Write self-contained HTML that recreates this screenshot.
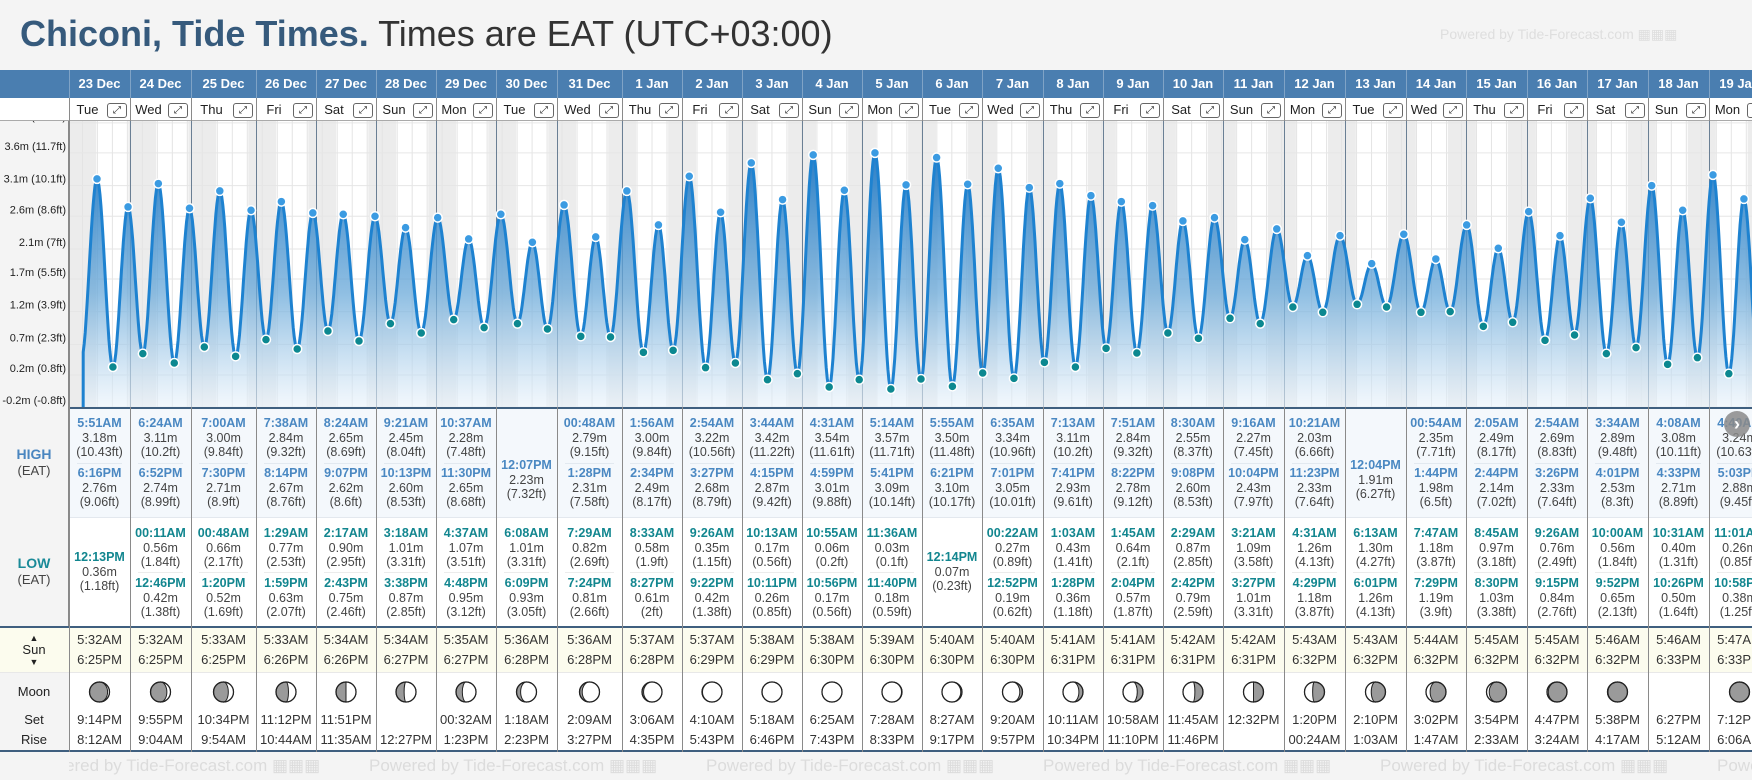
<!DOCTYPE html>
<html><head><meta charset="utf-8">
<style>
*{box-sizing:border-box;margin:0;padding:0}
body{width:1752px;height:780px;overflow:hidden;background:#f4f4f4;font-family:"Liberation Sans",sans-serif;position:relative}
.a{position:absolute}
.c{position:absolute;text-align:center;white-space:nowrap;font-size:12.5px;line-height:14px}
#root{position:absolute;left:0;top:0;width:1752px;height:780px;overflow:hidden}
</style></head>
<body>
<div id="root"></div>
<div class="a" style="left:20px;top:12px;font-size:36px;line-height:44px;white-space:nowrap"><b style="color:#365a7c">Chiconi, Tide Times.</b><span style="color:#333"> Times are EAT (UTC+03:00)</span></div>
<div class="a" style="left:1440px;top:26px;font-size:14px;color:#dedede;white-space:nowrap">Powered by Tide-Forecast.com ▦▦▦</div>
<svg id="chart" class="a" style="left:0;top:0" width="1752" height="780"></svg>
<script>
const days=['Tue','Wed','Thu','Fri','Sat','Sun','Mon','Tue','Wed','Thu','Fri','Sat','Sun','Mon','Tue','Wed','Thu','Fri','Sat','Sun','Mon','Tue','Wed','Thu','Fri','Sat','Sun','Mon'];
const dates=['23 Dec','24 Dec','25 Dec','26 Dec','27 Dec','28 Dec','29 Dec','30 Dec','31 Dec','1 Jan','2 Jan','3 Jan','4 Jan','5 Jan','6 Jan','7 Jan','8 Jan','9 Jan','10 Jan','11 Jan','12 Jan','13 Jan','14 Jan','15 Jan','16 Jan','17 Jan','18 Jan','19 Jan'];
const highs=[
[['5:51AM',3.18,'10.43'],['6:16PM',2.76,'9.06']],
[['6:24AM',3.11,'10.2'],['6:52PM',2.74,'8.99']],
[['7:00AM',3.00,'9.84'],['7:30PM',2.71,'8.9']],
[['7:38AM',2.84,'9.32'],['8:14PM',2.67,'8.76']],
[['8:24AM',2.65,'8.69'],['9:07PM',2.62,'8.6']],
[['9:21AM',2.45,'8.04'],['10:13PM',2.60,'8.53']],
[['10:37AM',2.28,'7.48'],['11:30PM',2.65,'8.68']],
[['12:07PM',2.23,'7.32']],
[['00:48AM',2.79,'9.15'],['1:28PM',2.31,'7.58']],
[['1:56AM',3.00,'9.84'],['2:34PM',2.49,'8.17']],
[['2:54AM',3.22,'10.56'],['3:27PM',2.68,'8.79']],
[['3:44AM',3.42,'11.22'],['4:15PM',2.87,'9.42']],
[['4:31AM',3.54,'11.61'],['4:59PM',3.01,'9.88']],
[['5:14AM',3.57,'11.71'],['5:41PM',3.09,'10.14']],
[['5:55AM',3.50,'11.48'],['6:21PM',3.10,'10.17']],
[['6:35AM',3.34,'10.96'],['7:01PM',3.05,'10.01']],
[['7:13AM',3.11,'10.2'],['7:41PM',2.93,'9.61']],
[['7:51AM',2.84,'9.32'],['8:22PM',2.78,'9.12']],
[['8:30AM',2.55,'8.37'],['9:08PM',2.60,'8.53']],
[['9:16AM',2.27,'7.45'],['10:04PM',2.43,'7.97']],
[['10:21AM',2.03,'6.66'],['11:23PM',2.33,'7.64']],
[['12:04PM',1.91,'6.27']],
[['00:54AM',2.35,'7.71'],['1:44PM',1.98,'6.5']],
[['2:05AM',2.49,'8.17'],['2:44PM',2.14,'7.02']],
[['2:54AM',2.69,'8.83'],['3:26PM',2.33,'7.64']],
[['3:34AM',2.89,'9.48'],['4:01PM',2.53,'8.3']],
[['4:08AM',3.08,'10.11'],['4:33PM',2.71,'8.89']],
[['4:40AM',3.24,'10.63'],['5:03PM',2.88,'9.45']]];
const lows=[
[['12:13PM',0.36,'1.18']],
[['00:11AM',0.56,'1.84'],['12:46PM',0.42,'1.38']],
[['00:48AM',0.66,'2.17'],['1:20PM',0.52,'1.69']],
[['1:29AM',0.77,'2.53'],['1:59PM',0.63,'2.07']],
[['2:17AM',0.90,'2.95'],['2:43PM',0.75,'2.46']],
[['3:18AM',1.01,'3.31'],['3:38PM',0.87,'2.85']],
[['4:37AM',1.07,'3.51'],['4:48PM',0.95,'3.12']],
[['6:08AM',1.01,'3.31'],['6:09PM',0.93,'3.05']],
[['7:29AM',0.82,'2.69'],['7:24PM',0.81,'2.66']],
[['8:33AM',0.58,'1.9'],['8:27PM',0.61,'2']],
[['9:26AM',0.35,'1.15'],['9:22PM',0.42,'1.38']],
[['10:13AM',0.17,'0.56'],['10:11PM',0.26,'0.85']],
[['10:55AM',0.06,'0.2'],['10:56PM',0.17,'0.56']],
[['11:36AM',0.03,'0.1'],['11:40PM',0.18,'0.59']],
[['12:14PM',0.07,'0.23']],
[['00:22AM',0.27,'0.89'],['12:52PM',0.19,'0.62']],
[['1:03AM',0.43,'1.41'],['1:28PM',0.36,'1.18']],
[['1:45AM',0.64,'2.1'],['2:04PM',0.57,'1.87']],
[['2:29AM',0.87,'2.85'],['2:42PM',0.79,'2.59']],
[['3:21AM',1.09,'3.58'],['3:27PM',1.01,'3.31']],
[['4:31AM',1.26,'4.13'],['4:29PM',1.18,'3.87']],
[['6:13AM',1.30,'4.27'],['6:01PM',1.26,'4.13']],
[['7:47AM',1.18,'3.87'],['7:29PM',1.19,'3.9']],
[['8:45AM',0.97,'3.18'],['8:30PM',1.03,'3.38']],
[['9:26AM',0.76,'2.49'],['9:15PM',0.84,'2.76']],
[['10:00AM',0.56,'1.84'],['9:52PM',0.65,'2.13']],
[['10:31AM',0.40,'1.31'],['10:26PM',0.50,'1.64']],
[['11:01AM',0.26,'0.85'],['10:58PM',0.38,'1.25']]];
const sunrise=['5:32AM','5:32AM','5:33AM','5:33AM','5:34AM','5:34AM','5:35AM','5:36AM','5:36AM','5:37AM','5:37AM','5:38AM','5:38AM','5:39AM','5:40AM','5:40AM','5:41AM','5:41AM','5:42AM','5:42AM','5:43AM','5:43AM','5:44AM','5:45AM','5:45AM','5:46AM','5:46AM','5:47AM'];
const sunset=['6:25PM','6:25PM','6:25PM','6:26PM','6:26PM','6:27PM','6:27PM','6:28PM','6:28PM','6:28PM','6:29PM','6:29PM','6:30PM','6:30PM','6:30PM','6:30PM','6:31PM','6:31PM','6:31PM','6:31PM','6:32PM','6:32PM','6:32PM','6:32PM','6:32PM','6:32PM','6:33PM','6:33PM'];
const moonset=['9:14PM','9:55PM','10:34PM','11:12PM','11:51PM','','00:32AM','1:18AM','2:09AM','3:06AM','4:10AM','5:18AM','6:25AM','7:28AM','8:27AM','9:20AM','10:11AM','10:58AM','11:45AM','12:32PM','1:20PM','2:10PM','3:02PM','3:54PM','4:47PM','5:38PM','6:27PM','7:12PM'];
const moonrise=['8:12AM','9:04AM','9:54AM','10:44AM','11:35AM','12:27PM','1:23PM','2:23PM','3:27PM','4:35PM','5:43PM','6:46PM','7:43PM','8:33PM','9:17PM','9:57PM','10:34PM','11:10PM','11:46PM','','00:24AM','1:03AM','1:47AM','2:33AM','3:24AM','4:17AM','5:12AM','6:06AM'];
const moonPhase=[0.10,0.14,0.17,0.21,0.25,0.28,0.31,0.35,0.38,0.41,0.45,0.48,0.51,0.55,0.58,0.62,0.65,0.68,0.72,0.75,0.78,0.82,0.85,0.88,0.92,0.95,null,0.02];
const preEvent=[-0.02,0.48];
const yTickVals=[4.02,3.57,3.08,2.62,2.13,1.68,1.19,0.70,0.24,-0.24];
const yTickLabels=['4m (13.2ft)','3.6m (11.7ft)','3.1m (10.1ft)','2.6m (8.6ft)','2.1m (7ft)','1.7m (5.5ft)','1.2m (3.9ft)','0.7m (2.3ft)','0.2m (0.8ft)','-0.2m (-0.8ft)'];

const xs=[69,130,191,256,316,376,436,496,557,622,682,742,802,862,922,982,1043,1103,1163,1223,1284,1345,1406,1466,1527,1587,1648,1709,1770];
const CT=121,CB=407;
function X(t){return 82.4+59.96*t;}
function Y(h){return 367-(h-0.36)*66.7;}
function tod(s){const m=s.match(/(\d+):(\d+)(AM|PM)/);let h=+m[1];if(m[3]=='PM'&&h<12)h+=12;if(m[3]=='AM'&&h==12)h=0;return (h*60+ +m[2])/1440;}
const root=document.getElementById('root');
function box(l,t,w,h,bg,extra){const d=document.createElement('div');d.className='a';d.style.cssText=`left:${l}px;top:${t}px;width:${w}px;height:${h}px;background:${bg};${extra||''}`;root.appendChild(d);return d;}
function txt(parent,cx,cy,w,s,style){const d=document.createElement('div');d.className='c';d.style.cssText=`left:${cx-w/2}px;top:${cy-7}px;width:${w}px;${style||''}`;d.textContent=s;parent.appendChild(d);return d;}

let b;
b=box(0,70,1752,28,'#4a7eb0');


b=box(0,98,1752,23,'#fff','border-bottom:1px solid #aaa');


b=box(69,CT,1683,CB-CT,'#fff');


b=box(69,407,1683,110,'#f4f8fc','border-top:2px solid #3f5f7f');


b=box(69,517,1683,109,'#fff','border-top:1px solid #e3e8ee');


b=box(0,626,1752,47,'#fcfcee','border-top:2px solid #3f5f7f;border-bottom:1px solid #e8e8e8');


b=box(69,673,1683,79,'#fff','border-bottom:2px solid #3f5f7f');


b=box(0,673,69,79,'#f4f4f4','border-bottom:2px solid #3f5f7f');



for(let k=0;k<6;k++){const f=document.createElement('div');f.className='a';f.style.cssText=`left:${32+337*k}px;top:756px;font-size:17px;color:#dcdcdc;white-space:nowrap`;f.textContent='Powered by Tide-Forecast.com ▦▦▦';root.appendChild(f);

}
b=box(0,752,69,28,'#f4f4f4');



function entry(cx,cy,w,e,col,name){
 let t;
 t=txt(root,cx,cy,w,e[0],`font-weight:bold;color:${col}`);
 
 
 t=txt(root,cx,cy+14.5,w,e[1].toFixed(2)+'m','color:#444');
 
 
 t=txt(root,cx,cy+28.5,w,'('+e[2]+'ft)','color:#444');
 
 
}
for(let i=0;i<dates.length;i++){
 const l=xs[i],r=xs[i+1],w=r-l,cx=(l+r)/2;
 let t;
 t=txt(root,cx,84,w,dates[i],'font-weight:bold;font-size:13px;color:#fff');
 
 
 t=txt(root,l+(w-24)/2,110,w-24,days[i],'font-size:13px;color:#222');
 
 
 const ic=document.createElement('div');ic.className='a';
 ic.style.cssText=`left:${r-23}px;top:103px;width:20px;height:15px;border:1px solid #666;border-radius:3px;font-size:10px;line-height:13px;text-align:center;color:#222;background:#fff`;
 ic.textContent='⤢';root.appendChild(ic);
 
 
 const s1=box(l,70,1,28,'#7fa3c6');
 
 
 const s2=box(l,98,1,654,'#8a8a8a');
 
 
 const H=highs[i];
 if(H.length==2){entry(cx,423,w,H[0],'#4a88c2','high-tide-1');entry(cx,473,w,H[1],'#4a88c2','high-tide-2');
  const sp=box(l+8,463,w-16,1,'#e2e9f0');}
 else entry(cx,465,w,H[0],'#4a88c2','high-tide');
 const Lw=lows[i];
 if(Lw.length==2){entry(cx,533,w,Lw[0],'#12868f','low-tide-1');entry(cx,583,w,Lw[1],'#12868f','low-tide-2');
  const sp=box(l+8,572,w-16,1,'#ececec');}
 else entry(cx,557,w,Lw[0],'#12868f','low-tide');
 t=txt(root,cx,640,w,sunrise[i],'font-size:13px;color:#333');
 
 
 t=txt(root,cx,660,w,sunset[i],'font-size:13px;color:#333');
 
 
 t=txt(root,cx,720,w,moonset[i],'font-size:13px;color:#333');
 
 
 t=txt(root,cx,740,w,moonrise[i],'font-size:13px;color:#333');
 
 
}
const lb=box(0,121,69,505,'#f4f4f4','border-right:1px solid #888');



let L;
L=txt(root,34,454,69,'HIGH','font-weight:bold;font-size:14px;color:#4a86c0');


L=txt(root,34,471,69,'(EAT)','font-size:13px;color:#444');


L=txt(root,34,563,69,'LOW','font-weight:bold;font-size:14px;color:#1a8a98');


L=txt(root,34,580,69,'(EAT)','font-size:13px;color:#444');


L=txt(root,34,638,69,'▲','font-size:9px;color:#222');


L=txt(root,34,650,69,'Sun','font-size:13px;color:#222');


L=txt(root,34,662,69,'▼','font-size:9px;color:#222');


L=txt(root,34,692,69,'Moon','font-size:13px;color:#222');


L=txt(root,34,720,69,'Set','font-size:13px;color:#222');


L=txt(root,34,740,69,'Rise','font-size:13px;color:#222');



const NS='http://www.w3.org/2000/svg';
const svg=document.getElementById('chart');
function el(tag,attrs,parent){const e=document.createElementNS(NS,tag);for(const k in attrs)e.setAttribute(k,attrs[k]);(parent||svg).appendChild(e);return e;}
const defs=el('defs',{});
const cp=el('clipPath',{id:'cp'},defs);el('rect',{x:70,y:CT,width:1682,height:CB-CT},cp);
const lg=el('linearGradient',{id:'fg',x1:0,y1:0,x2:0,y2:1},defs);
el('stop',{offset:'0','stop-color':'#1f78c4','stop-opacity':'0.95'},lg);
el('stop',{offset:'0.55','stop-color':'#6aa9d9','stop-opacity':'0.75'},lg);
el('stop',{offset:'1','stop-color':'#eaf3fb','stop-opacity':'0.6'},lg);
const g=el('g',{'clip-path':'url(#cp)'});


for(let i=-1;i<dates.length;i++){
 const t0=i<0?-1:i+tod(sunset[i]);const t1=i+1<dates.length?i+1+tod(sunrise[i+1]):dates.length+0.3;
 const nb=el('rect',{x:X(t0),y:CT,width:X(t1)-X(t0),height:CB-CT,fill:'#ececec'},g);
 
 
}
for(let q=0;q<dates.length*4;q++){const gl=el('line',{x1:X(q/4),x2:X(q/4),y1:CT,y2:CB,stroke:'#e4e4e4','stroke-width':1},g);
 
 }
yTickVals.forEach((v,k)=>{const gl=el('line',{x1:69,x2:1752,y1:Y(v),y2:Y(v),stroke:'#e6e6e6','stroke-width':1},g);
 
 });
for(let i=1;i<dates.length;i++){const dl=el('line',{x1:xs[i]+0.5,x2:xs[i]+0.5,y1:CT,y2:CB,stroke:'#6a7f94','stroke-width':1},g);
 
 }
const ev=[{t:preEvent[0],h:preEvent[1],type:'pre'}];
highs.forEach((H,i)=>H.forEach(e=>ev.push({t:i+tod(e[0]),h:e[1],type:'high'})));
lows.forEach((Lw,i)=>Lw.forEach(e=>ev.push({t:i+tod(e[0]),h:e[1],type:'low'})));
ev.sort((a,b)=>a.t-b.t);
const pts=[];
for(let k=0;k<ev.length-1;k++){const a=ev[k],c=ev[k+1];for(let s=0;s<16;s++){const f=s/16;const t=a.t+(c.t-a.t)*f;if(t<0)continue;pts.push([X(t),Y(a.h+(c.h-a.h)*(1-Math.cos(Math.PI*f))/2)]);}}
const last=ev[ev.length-1];pts.push([X(last.t),Y(last.h)]);
const line='M'+pts.map(p=>p[0].toFixed(1)+','+p[1].toFixed(1)).join(' L');
const area=el('path',{d:`M${pts[0][0]},${CB} L`+pts.map(p=>p[0].toFixed(1)+','+p[1].toFixed(1)).join(' L')+` L${pts[pts.length-1][0]},${CB} Z`,fill:'url(#fg)'},g);


const lp=el('path',{d:`M${pts[0][0]},${CB} L`+line.slice(1),fill:'none',stroke:'#1e82d0','stroke-width':3,'stroke-linejoin':'round'},g);


ev.forEach(e=>{if(e.type=='pre')return;const d=el('circle',{cx:X(e.t),cy:Y(e.h),r:4.5,fill:e.type=='high'?'#3b9be2':'#0c8890',stroke:'#fff','stroke-width':1.5},g);
 
 });
const yc=el('clipPath',{id:'yc'},defs);el('rect',{x:0,y:CT,width:69,height:CB-CT},yc);
const yg=el('g',{'clip-path':'url(#yc)'});
yTickVals.forEach((v,k)=>{const tx=el('text',{x:66,y:Y(v)-3,'text-anchor':'end','font-size':11,fill:'#222','font-family':'Liberation Sans, sans-serif'},yg);tx.textContent=yTickLabels[k];
 
 });
moonPhase.forEach((p,i)=>{if(p===null)return;const cx=(xs[i]+xs[i+1])/2,cy=692,r=10;
 const mg=el('g',{});
 
 
 el('circle',{cx,cy,r,fill:'#9a9a9a',stroke:'#222','stroke-width':1.2},mg);
 const rx=Math.abs(r*Math.cos(2*Math.PI*p)).toFixed(2);let d;
 if(p<0.5){const sw=p<0.25?0:1;d=`M${cx},${cy-r} A${r},${r} 0 0 1 ${cx},${cy+r} A${rx},${r} 0 0 ${sw} ${cx},${cy-r}Z`;}
 else{const sw=p>0.75?1:0;d=`M${cx},${cy-r} A${r},${r} 0 0 0 ${cx},${cy+r} A${rx},${r} 0 0 ${sw} ${cx},${cy-r}Z`;}
 el('path',{d,fill:'#fff',stroke:'#222','stroke-width':1},mg);
 el('circle',{cx,cy,r,fill:'none',stroke:'#222','stroke-width':1.2},mg);
});
const nx=el('g',{});


el('circle',{cx:1737,cy:424,r:13,fill:'#8a8a8a','fill-opacity':0.85},nx);
const nt=el('text',{x:1737,y:430,'text-anchor':'middle','font-size':18,'font-weight':'bold',fill:'#fff','font-family':'Liberation Sans, sans-serif'},nx);nt.textContent='›';
</script>
</body></html>
